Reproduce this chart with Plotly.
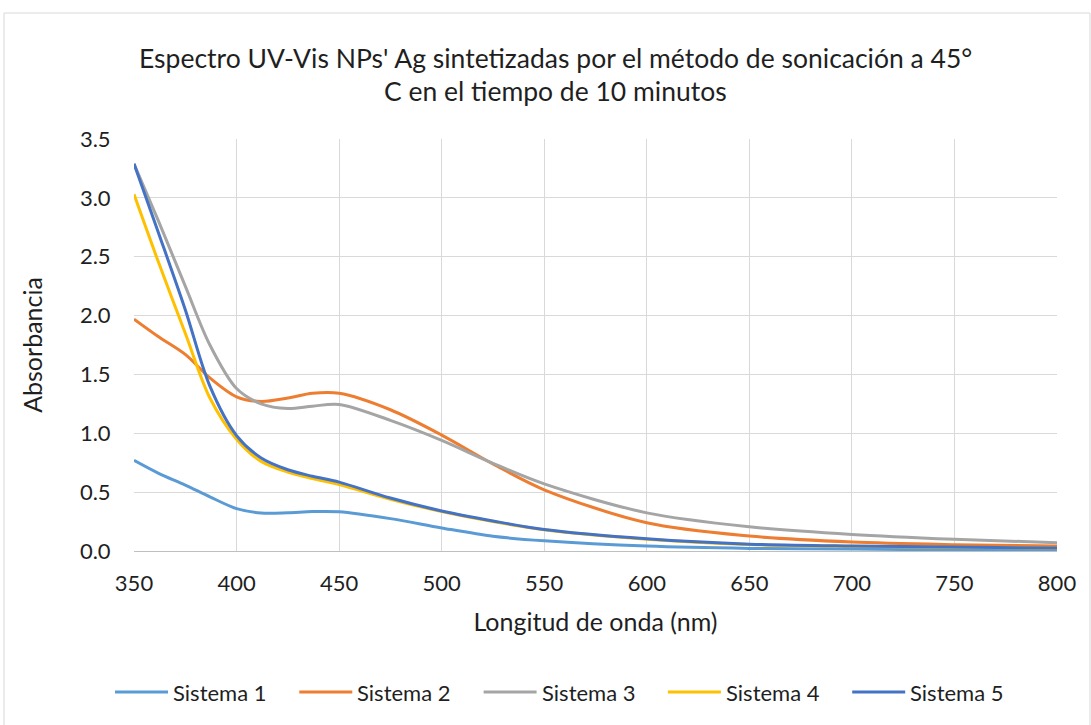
import plotly.graph_objects as go

# Wavelengths (nm) and absorbance readings for each system
wl = [350, 362, 375, 387, 400, 412, 425, 437, 450, 475, 500, 525, 550, 600, 650, 700, 750, 800]

sistema_1 = [0.77, 0.66, 0.56, 0.46, 0.36, 0.323, 0.325, 0.335, 0.333, 0.275, 0.196, 0.125, 0.087, 0.042, 0.022, 0.016, 0.012, 0.010]
sistema_2 = [1.97, 1.82, 1.67, 1.47, 1.31, 1.27, 1.30, 1.34, 1.34, 1.20, 0.985, 0.74, 0.52, 0.24, 0.127, 0.076, 0.054, 0.042]
sistema_3 = [3.29, 2.80, 2.25, 1.75, 1.38, 1.25, 1.21, 1.23, 1.245, 1.11, 0.94, 0.745, 0.57, 0.324, 0.206, 0.141, 0.100, 0.070]
sistema_4 = [3.03, 2.45, 1.85, 1.30, 0.95, 0.76, 0.67, 0.615, 0.565, 0.44, 0.335, 0.25, 0.18, 0.100, 0.055, 0.040, 0.032, 0.024]
sistema_5 = [3.29, 2.70, 2.05, 1.40, 0.98, 0.79, 0.69, 0.635, 0.585, 0.45, 0.340, 0.255, 0.183, 0.104, 0.058, 0.042, 0.034, 0.025]

series = [
    ("Sistema 1", sistema_1, "#5B9BD5"),
    ("Sistema 2", sistema_2, "#ED7D31"),
    ("Sistema 3", sistema_3, "#A5A5A5"),
    ("Sistema 4", sistema_4, "#FFC000"),
    ("Sistema 5", sistema_5, "#4472C4"),
]

title_lines = [
    "Espectro UV-Vis NPs' Ag sintetizadas por el método de sonicación a 45°",
    "C en el tiempo de 10 minutos",
]

FONT = "Lato"
TXT = "#1f1f1f"

W, H = 1091, 725
L, R, T, B = 134, 34, 139, 174
pw, ph = W - L - R, H - T - B


def px_x(px):
    """Pixel column -> paper x."""
    return (px - L) / pw


def px_y(py):
    """Pixel row -> paper y."""
    return (H - B - py) / ph


fig = go.Figure()
for name, vals, color in series:
    fig.add_trace(go.Scatter(
        x=wl, y=vals, name=name, mode="lines", showlegend=False,
        line=dict(color=color, width=3, shape="spline", smoothing=0.9),
    ))

shapes = [dict(
    type="rect", xref="paper", yref="paper",
    x0=px_x(4), x1=px_x(1090), y0=px_y(740), y1=px_y(13),
    line=dict(color="#D9D9D9", width=1), fillcolor="rgba(0,0,0,0)",
    layer="below",
)]
annotations = []

# Title, two centred lines
for i, line in enumerate(title_lines):
    annotations.append(dict(
        text=line, xref="paper", yref="paper",
        x=px_x(555), y=px_y(58 + 33 * i), xanchor="center", yanchor="middle",
        showarrow=False, font=dict(family=FONT, size=26.5, color=TXT),
    ))

# Legend row below the axis title
LEG_X0, LEG_STEP, LEG_Y, LEG_LINE = 115, 184.3, 692, 53
for i, (name, vals, color) in enumerate(series):
    x0 = LEG_X0 + i * LEG_STEP
    shapes.append(dict(
        type="line", xref="paper", yref="paper",
        x0=px_x(x0), x1=px_x(x0 + LEG_LINE), y0=px_y(LEG_Y), y1=px_y(LEG_Y),
        line=dict(color=color, width=3),
    ))
    annotations.append(dict(
        text=name, xref="paper", yref="paper",
        x=px_x(x0 + LEG_LINE + 3), y=px_y(LEG_Y), xanchor="left", yanchor="middle",
        showarrow=False, font=dict(family=FONT, size=22, color=TXT),
    ))

fig.update_layout(
    width=W, height=H,
    margin=dict(l=L, r=R, t=T, b=B),
    paper_bgcolor="white", plot_bgcolor="white",
    font=dict(family=FONT, color=TXT, size=22),
    showlegend=False,
    xaxis=dict(
        range=[350, 800], dtick=50, tick0=350,
        showgrid=True, gridcolor="#D9D9D9", gridwidth=1,
        showline=True, linecolor="#BFBFBF", linewidth=1,
        ticks="outside", ticklen=13, tickcolor="rgba(0,0,0,0)",
        tickfont=dict(size=22, family=FONT, color=TXT),
        zeroline=False,
        title=dict(text="Longitud de onda (nm)", font=dict(size=25, family=FONT, color=TXT), standoff=18),
    ),
    yaxis=dict(
        range=[0, 3.5], dtick=0.5, tick0=0, tickformat=".1f",
        showgrid=True, gridcolor="#D9D9D9", gridwidth=1,
        showline=False, zeroline=False,
        ticks="outside", ticklen=18, tickcolor="rgba(0,0,0,0)",
        tickfont=dict(size=22, family=FONT, color=TXT),
        title=dict(text="Absorbancia", font=dict(size=25, family=FONT, color=TXT), standoff=30),
    ),
    shapes=shapes,
    annotations=annotations,
)

fig.write_html("out.html")
